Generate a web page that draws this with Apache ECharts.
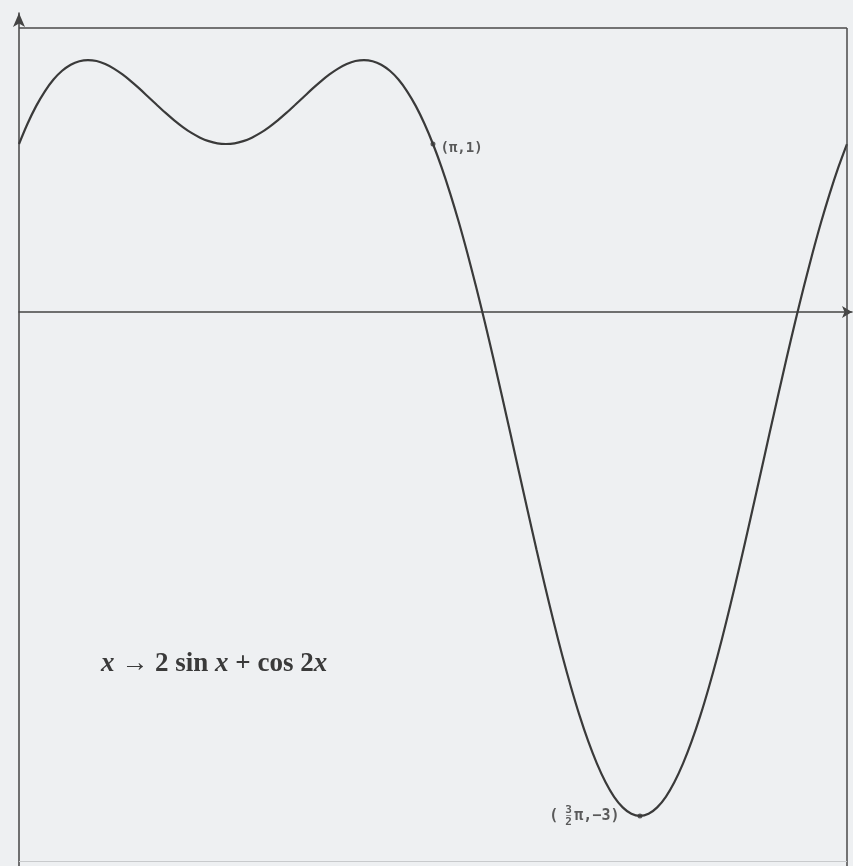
<!DOCTYPE html>
<html>
<head>
<meta charset="utf-8">
<script src="https://cdn.jsdelivr.net/npm/echarts@6/dist/echarts.min.js"></script>
<style>
  html, body { margin: 0; padding: 0; background: #eef0f2; }
  #chart { width: 853px; height: 866px; }
</style>
</head>
<body>
<div id="chart"></div>
<script>
// sample positions in degrees, every 3.75° from 0 to 360
const xStepDeg = 3.75;
// curve heights at those positions
const yVals = [
  1.000, 1.122, 1.227, 1.314, 1.384, 1.436, 1.472, 1.493, 1.500, 1.494, 1.476, 1.449,
  1.414, 1.373, 1.328, 1.280, 1.232, 1.185, 1.141, 1.101, 1.066, 1.038, 1.017, 1.004,
  1.000, 1.004, 1.017, 1.038, 1.066, 1.101, 1.141, 1.185, 1.232, 1.280, 1.328, 1.373,
  1.414, 1.449, 1.476, 1.494, 1.500, 1.493, 1.472, 1.436, 1.384, 1.314, 1.227, 1.122,
  1.000, 0.861, 0.705, 0.534, 0.348, 0.150, -0.058, -0.276, -0.500, -0.728, -0.959, -1.188,
  -1.414, -1.634, -1.846, -2.046, -2.232, -2.403, -2.555, -2.687, -2.798, -2.886, -2.949, -2.987,
  -3.000, -2.987, -2.949, -2.886, -2.798, -2.687, -2.555, -2.403, -2.232, -2.046, -1.846, -1.634,
  -1.414, -1.188, -0.959, -0.728, -0.500, -0.276, -0.058, 0.150, 0.348, 0.534, 0.705, 0.861,
  1.000];
// marked points
const markedPts = [[180, 1], [270, -3]];
const formulaParts = ['x', ' → 2 sin ', 'x', ' + cos 2', 'x'];

const frameTop = 1.69, frameRight = 360, frameBottom = -3.27;
const yMin = -3.298, yMax = 1.780;
const xMax = 362.2;
const ink = '#3a3a3a';

const curve = yVals.map((y, i) => [i * xStepDeg, y]);

const chart = echarts.init(document.getElementById('chart'));
chart.setOption({
  backgroundColor: '#eef0f2',
  animation: false,
  title: {
    left: 96, top: 646,
    text: '{i|' + formulaParts[0] + '}{r|' + formulaParts[1] + '}{i|' + formulaParts[2] +
          '}{r|' + formulaParts[3] + '}{i|' + formulaParts[4] + '}',
    textStyle: {
      rich: {
        i: { fontFamily: 'Liberation Serif', fontStyle: 'italic', fontSize: 27, color: '#3a3a3a' },
        r: { fontFamily: 'Liberation Serif', fontSize: 27, color: '#3a3a3a' }
      }
    }
  },
  grid: { left: 19, right: 1, top: 13, bottom: 0, containLabel: false },
  xAxis: {
    type: 'value', min: 0, max: xMax,
    axisLine: { onZero: true, lineStyle: { color: '#444', width: 1.5 },
                symbol: ['none', 'arrow'], symbolSize: [9, 10] },
    axisTick: { show: false }, axisLabel: { show: false }, splitLine: { show: false }
  },
  yAxis: {
    type: 'value', min: yMin, max: yMax,
    axisLine: { onZero: false, lineStyle: { color: '#444', width: 1.5 },
                symbol: ['none', 'arrow'], symbolSize: [9, 14] },
    axisTick: { show: false }, axisLabel: { show: false }, splitLine: { show: false }
  },
  series: [
    {
      type: 'line', data: curve, smooth: 0.3, showSymbol: false,
      lineStyle: { color: ink, width: 2.2 },
      markLine: {
        silent: true, symbol: 'none', animation: false,
        lineStyle: { color: '#4a4a4a', width: 1.5, type: 'solid' },
        label: { show: false },
        data: [
          [{ coord: [0, frameTop] }, { coord: [frameRight, frameTop] }],
          [{ coord: [frameRight, frameTop] }, { coord: [frameRight, yMin] }],
          [{ coord: [0, frameBottom], lineStyle: { color: '#c8cacc', width: 1 } }, { coord: [frameRight, frameBottom] }]
        ]
      },
      z: 3
    },
    {
      type: 'scatter', symbolSize: 5, itemStyle: { color: ink },
      data: [
        { value: markedPts[0], label: { show: true, position: 'right', distance: 5,
            offset: [0, 4], formatter: '(π,1)' } },
        { value: markedPts[1], label: { show: true, position: 'left', distance: 18,
            formatter: '{t|(}{g|}{t|π,−3)}' } }
      ],
      label: { fontFamily: 'DejaVu Sans Mono', fontWeight: 'bold', fontSize: 14, color: '#333',
        rich: {
          t: { fontFamily: 'DejaVu Sans Mono', fontWeight: 'bold', fontSize: 15, color: '#333' },
          g: { width: 16 }
        } },
      z: 4
    },
    {
      // the 3/2 fraction in the minimum's coordinate label
      type: 'scatter', symbolSize: 0,
      data: [{ value: markedPts[1], label: { show: true, position: 'left', distance: 68,
        formatter: '{n|3}\n{b|─}\n{n|2}' } }],
      label: { rich: {
        n: { fontFamily: 'DejaVu Sans Mono', fontWeight: 'bold', fontSize: 11, lineHeight: 10, color: '#333', align: 'center' },
        b: { fontFamily: 'DejaVu Sans Mono', fontSize: 8, lineHeight: 2, color: '#333', align: 'center' }
      } },
      z: 4
    }
  ]
});
</script>
</body>
</html>
